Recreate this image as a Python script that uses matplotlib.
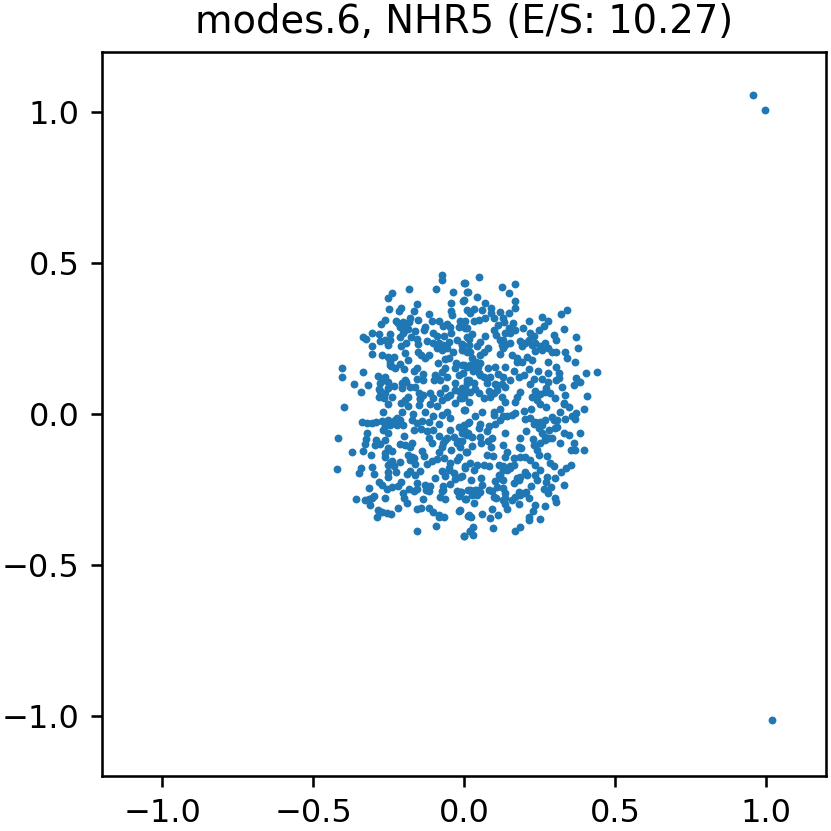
import matplotlib
matplotlib.use("Agg")
import matplotlib.pyplot as plt

title = "modes.6, NHR5 (E/S: 10.27)"
ticks = [-1.0, -0.5, 0.0, 0.5, 1.0]
outliers = [(0.957,1.056),(0.997,1.007),(1.020,-1.013)]
upper_left = [(-0.074,0.460),(-0.075,0.443),(-0.182,0.414),(-0.095,0.416),(-0.036,0.406),(-0.239,0.400),(-0.254,0.386),(0.0,0.434),(0.009,0.406),(-0.002,0.379),(-0.044,0.368),(-0.156,0.363),(-0.250,0.349),(-0.211,0.353),(-0.216,0.340),(-0.168,0.342),(-0.116,0.331),(-0.044,0.343),(-0.039,0.329),(-0.014,0.309),(-0.153,0.312),(-0.181,0.318),(-0.225,0.309),(-0.264,0.310),(-0.276,0.298),(-0.203,0.305),(-0.184,0.305),(-0.212,0.290),(-0.196,0.287),(-0.106,0.309),(-0.082,0.307),(-0.058,0.298),(-0.071,0.293),(-0.047,0.290),(-0.129,0.287),(-0.133,0.279),(-0.002,0.305),(0.009,0.285),(-0.019,0.290),(-0.163,0.274),(-0.204,0.268),(-0.212,0.254),(-0.185,0.281),(-0.305,0.267),(-0.334,0.256),(-0.325,0.248),(-0.281,0.265),(-0.245,0.265),(-0.278,0.243),(-0.262,0.246),(-0.245,0.246),(-0.251,0.229),(-0.176,0.256),(-0.155,0.249),(-0.153,0.231),(-0.192,0.235),(-0.210,0.224),(-0.196,0.202),(-0.305,0.226),(-0.304,0.199),(-0.271,0.194),(-0.254,0.190),(-0.232,0.188),(-0.247,0.174),(-0.242,0.159),(-0.185,0.179),(-0.212,0.165),(-0.199,0.150),(-0.229,0.152),(-0.154,0.205),(-0.144,0.196),(-0.118,0.196),(-0.129,0.185),(-0.122,0.243),(-0.102,0.268),(-0.089,0.260),(-0.102,0.235),(-0.085,0.235),(-0.069,0.229),(-0.074,0.213),(-0.058,0.218),(-0.066,0.260),(-0.044,0.268),(-0.024,0.246),(-0.008,0.229),(0.009,0.254),(-0.036,0.205),(-0.008,0.213),(0.009,0.205),(-0.063,0.183),(-0.052,0.185),(-0.087,0.168),(-0.027,0.168),(-0.030,0.152),(-0.002,0.163),(-0.063,0.152),(-0.074,0.138),(-0.096,0.130),(-0.100,0.113),(-0.080,0.113),(-0.058,0.124),(-0.019,0.130),(0.009,0.113),(-0.155,0.152),(-0.168,0.141),(-0.135,0.132),(-0.135,0.113),(-0.155,0.116),(-0.192,0.107),(-0.207,0.102),(-0.163,0.091),(-0.405,0.154),(-0.405,0.122),(-0.335,0.138),(-0.366,0.100),(-0.319,0.097),(-0.342,0.073),(-0.287,0.126),(-0.262,0.122),(-0.278,0.102),(-0.251,0.107),(-0.234,0.094),(-0.284,0.083),(-0.251,0.085),(-0.273,0.069),(-0.284,0.058),(-0.267,0.052),(-0.240,0.058),(-0.207,0.085),(-0.185,0.058),(-0.196,0.047),(-0.151,0.069),(-0.135,0.063),(-0.102,0.052),(-0.063,0.085),(-0.047,0.063),(-0.030,0.102),(-0.014,0.074),(0.0,0.058),(-0.074,0.047),(-0.148,0.049)]
upper_right = [(0.049,0.453),(0.002,0.434),(0.011,0.406),(0.042,0.389),(0.125,0.420),(0.167,0.432),(0.147,0.400),(0.169,0.375),(0.169,0.350),(0.149,0.336),(0.068,0.368),(-0.004,0.375),(0.060,0.345),(0.089,0.353),(0.117,0.338),(0.089,0.334),(0.097,0.318),(0.070,0.318),(0.048,0.310),(0.031,0.307),(0.009,0.345),(0.031,0.349),(0.018,0.334),(0.004,0.307),(0.004,0.285),(0.128,0.318),(0.133,0.305),(0.160,0.301),(0.112,0.296),(0.097,0.279),(0.106,0.262),(0.147,0.285),(0.136,0.268),(0.169,0.279),(0.193,0.285),(0.215,0.309),(0.257,0.323),(0.276,0.307),(0.265,0.293),(0.249,0.277),(0.320,0.331),(0.340,0.344),(0.332,0.283),(0.371,0.255),(0.377,0.220),(0.296,0.262),(0.305,0.245),(0.219,0.268),(0.232,0.257),(0.213,0.246),(0.186,0.243),(0.191,0.224),(0.153,0.235),(0.119,0.246),(0.125,0.229),(0.130,0.218),(0.119,0.199),(0.070,0.260),(0.026,0.265),(0.015,0.249),(0.053,0.240),(0.015,0.229),(-0.007,0.231),(0.078,0.220),(0.042,0.224),(-0.004,0.213),(0.020,0.207),(0.066,0.205),(0.053,0.194),(0.026,0.185),(0.040,0.174),(0.053,0.168),(0.026,0.163),(0.044,0.157),(0.009,0.157),(-0.007,0.163),(0.029,0.143),(-0.004,0.135),(0.103,0.157),(0.079,0.152),(0.136,0.157),(0.158,0.196),(0.175,0.185),(0.191,0.174),(0.208,0.190),(0.224,0.179),(0.235,0.209),(0.252,0.224),(0.268,0.235),(0.276,0.218),(0.291,0.205),(0.305,0.207),(0.235,0.235),(0.278,0.174),(0.335,0.207),(0.340,0.185),(0.368,0.174),(0.304,0.157),(0.245,0.141),(0.278,0.135),(0.315,0.137),(0.404,0.136),(0.441,0.139),(0.371,0.119),(0.382,0.107),(0.364,0.096),(0.313,0.119),(0.305,0.113),(0.324,0.091),(0.335,0.063),(0.406,0.059),(0.331,0.035),(0.232,0.116),(0.257,0.116),(0.219,0.099),(0.279,0.105),(0.272,0.087),(0.285,0.069),(0.235,0.076),(0.252,0.065),(0.224,0.058),(0.241,0.047),(0.302,0.052),(0.186,0.074),(0.175,0.058),(0.169,0.041),(0.213,0.150),(0.197,0.130),(0.180,0.121),(0.164,0.143),(0.153,0.113),(0.130,0.121),(0.111,0.132),(0.084,0.124),(0.064,0.121),(0.048,0.135),(0.075,0.102),(0.103,0.099),(0.125,0.099),(0.136,0.091),(0.108,0.080),(0.081,0.076),(0.048,0.069),(0.015,0.113),(0.031,0.102),(0.004,0.085),(0.037,0.083),(0.004,0.069),(0.064,0.052),(0.086,0.058),(0.125,0.058),(0.136,0.041),(0.015,0.041)]
lower_left = [(-0.397,0.022),(-0.419,-0.078),(-0.373,-0.125),(-0.422,-0.182),(-0.270,0.005),(-0.254,0.034),(-0.339,-0.026),(-0.323,-0.031),(-0.306,-0.031),(-0.293,-0.028),(-0.273,-0.023),(-0.251,-0.019),(-0.229,-0.019),(-0.207,0.008),(-0.212,-0.019),(-0.223,-0.036),(-0.245,-0.036),(-0.270,-0.053),(-0.262,-0.039),(-0.203,-0.036),(-0.170,0.000),(-0.174,-0.019),(-0.155,-0.031),(-0.168,-0.053),(-0.144,-0.050),(-0.129,0.008),(-0.151,0.030),(-0.185,0.027),(-0.210,0.036),(-0.102,-0.008),(-0.074,-0.003),(-0.058,0.005),(-0.091,0.025),(-0.113,0.034),(-0.118,-0.025),(-0.140,-0.022),(-0.082,-0.033),(-0.102,-0.053),(-0.124,-0.055),(-0.085,-0.073),(-0.047,-0.014),(0.0,0.014),(-0.030,0.038),(-0.019,-0.044),(-0.001,-0.036),(0.011,-0.031),(-0.008,-0.064),(-0.047,-0.053),(-0.033,-0.075),(-0.063,-0.086),(-0.019,-0.091),(-0.014,-0.108),(0.006,-0.125),(-0.118,-0.080),(-0.107,-0.095),(-0.082,-0.125),(-0.044,-0.120),(-0.074,-0.108),(-0.323,-0.064),(-0.325,-0.084),(-0.330,-0.099),(-0.334,-0.121),(-0.308,-0.137),(-0.292,-0.086),(-0.297,-0.102),(-0.278,-0.099),(-0.264,-0.086),(-0.251,-0.064),(-0.199,-0.073),(-0.251,-0.114),(-0.262,-0.130),(-0.240,-0.121),(-0.262,-0.144),(-0.212,-0.099),(-0.196,-0.102),(-0.174,-0.097),(-0.179,-0.110),(-0.140,-0.121),(-0.132,-0.138),(-0.185,-0.136),(-0.168,-0.147),(-0.179,-0.152),(-0.164,-0.167),(-0.212,-0.158),(-0.240,-0.156),(-0.251,-0.169),(-0.234,-0.174),(-0.341,-0.180),(-0.347,-0.197),(-0.304,-0.177),(-0.298,-0.198),(-0.254,-0.191),(-0.254,-0.208),(-0.225,-0.191),(-0.181,-0.188),(-0.188,-0.200),(-0.164,-0.202),(-0.146,-0.189),(-0.124,-0.166),(-0.107,-0.155),(-0.089,-0.148),(-0.067,-0.147),(-0.047,-0.161),(-0.025,-0.152),(-0.019,-0.143),(0.003,-0.174),(-0.074,-0.188),(-0.052,-0.180),(-0.033,-0.197),(-0.063,-0.205),(-0.096,-0.211),(-0.014,-0.208),(-0.030,-0.217),(-0.047,-0.232),(-0.069,-0.239),(-0.073,-0.254),(-0.080,-0.274),(-0.063,-0.282),(-0.282,-0.227),(-0.273,-0.236),(-0.316,-0.246),(-0.256,-0.250),(-0.240,-0.243),(-0.218,-0.238),(-0.209,-0.224),(-0.157,-0.228),(-0.182,-0.249),(-0.168,-0.254),(-0.155,-0.249),(-0.129,-0.235),(-0.113,-0.239),(-0.126,-0.252),(-0.116,-0.254),(-0.204,-0.263),(-0.199,-0.280),(-0.190,-0.294),(-0.262,-0.280),(-0.357,-0.283),(-0.330,-0.285),(-0.314,-0.282),(-0.300,-0.271),(-0.312,-0.302),(-0.137,-0.282),(-0.287,-0.318),(-0.273,-0.324),(-0.289,-0.341),(-0.256,-0.327),(-0.243,-0.330),(-0.218,-0.313),(-0.157,-0.315),(-0.144,-0.311),(-0.118,-0.310),(-0.105,-0.324),(-0.085,-0.335),(-0.085,-0.343),(-0.067,-0.341),(-0.017,-0.320),(0.012,-0.337),(-0.157,-0.387),(-0.092,-0.372),(-0.001,-0.406),(0.020,-0.388),(-0.025,-0.254),(-0.011,-0.258),(-0.019,-0.272),(0.004,-0.282),(0.011,-0.252)]
lower_right = [(0.398,0.018),(0.371,0.003),(0.357,-0.008),(0.368,-0.017),(0.335,-0.016),(0.318,0.008),(0.331,0.034),(0.346,0.023),(0.272,0.023),(0.250,0.034),(0.221,0.016),(0.197,0.010),(0.219,-0.014),(0.202,-0.016),(0.169,0.003),(0.142,-0.006),(0.119,0.016),(0.097,0.005),(0.119,-0.019),(0.103,-0.033),(0.059,0.008),(0.037,-0.008),(0.001,0.014),(0.015,-0.028),(0.053,-0.033),(0.048,-0.047),(0.081,-0.039),(0.075,-0.058),(0.011,-0.064),(-0.004,-0.053),(0.026,-0.075),(0.053,-0.077),(0.055,-0.097),(0.078,-0.088),(0.092,-0.080),(0.026,-0.106),(0.089,-0.111),(0.009,-0.125),(0.075,-0.136),(0.095,-0.138),(0.136,-0.064),(0.206,-0.058),(0.186,-0.080),(0.130,-0.103),(0.142,-0.125),(0.136,-0.143),(0.164,-0.147),(0.180,-0.108),(0.189,-0.114),(0.228,-0.084),(0.230,-0.103),(0.241,-0.119),(0.246,-0.136),(0.274,-0.138),(0.252,-0.097),(0.268,-0.086),(0.291,-0.080),(0.257,-0.064),(0.280,-0.053),(0.302,-0.047),(0.232,-0.033),(0.252,-0.025),(0.268,-0.019),(0.291,-0.011),(0.307,-0.019),(0.307,-0.042),(0.329,-0.062),(0.346,-0.069),(0.384,-0.062),(0.362,-0.095),(0.318,-0.095),(0.355,-0.118),(0.368,-0.118),(0.398,-0.118),(0.285,-0.163),(0.298,-0.174),(0.355,-0.168),(0.338,-0.178),(0.320,-0.191),(0.299,-0.213),(0.329,-0.236),(0.274,-0.210),(0.272,-0.224),(0.287,-0.241),(0.263,-0.248),(0.278,-0.263),(0.302,-0.280),(0.304,-0.291),(0.267,-0.304),(0.233,-0.300),(0.228,-0.323),(0.252,-0.347),(0.213,-0.343),(0.213,-0.352),(0.186,-0.374),(0.167,-0.388),(0.094,-0.379),(0.029,-0.376),(0.020,-0.388),(0.028,-0.402),(-0.001,-0.406),(0.015,-0.335),(0.023,-0.341),(0.059,-0.332),(0.086,-0.344),(0.092,-0.315),(0.111,-0.335),(0.033,-0.296),(0.005,-0.282),(0.020,-0.252),(0.037,-0.252),(0.053,-0.258),(0.042,-0.269),(0.026,-0.269),(0.055,-0.211),(0.059,-0.235),(0.023,-0.220),(0.081,-0.252),(0.092,-0.254),(0.097,-0.274),(0.106,-0.277),(0.130,-0.285),(0.136,-0.299),(0.142,-0.316),(0.158,-0.285),(0.180,-0.299),(0.169,-0.274),(0.180,-0.258),(0.197,-0.263),(0.213,-0.280),(0.206,-0.258),(0.222,-0.239),(0.103,-0.221),(0.119,-0.202),(0.130,-0.219),(0.108,-0.241),(0.130,-0.246),(0.136,-0.263),(0.164,-0.230),(0.175,-0.213),(0.186,-0.208),(0.202,-0.191),(0.208,-0.202),(0.235,-0.202),(0.241,-0.219),(0.250,-0.186),(0.235,-0.169),(0.219,-0.152),(0.202,-0.141),(0.186,-0.141),(0.164,-0.169),(0.153,-0.174),(0.130,-0.174),(0.114,-0.169),(0.142,-0.186),(0.114,-0.202),(0.081,-0.174),(0.064,-0.169),(0.042,-0.169),(0.031,-0.186),(0.018,-0.161),(0.004,-0.180),(-0.007,-0.205),(-0.010,-0.258),(-0.013,-0.318)]
dense_spots = [(-0.218,0.301),(-0.199,0.274),(-0.080,0.224),(-0.063,0.227),(-0.091,0.218),(-0.052,0.238),(-0.245,0.163),(-0.267,0.113),(-0.278,0.076),(-0.262,0.069),(-0.196,0.113),(-0.179,0.091),(-0.091,0.118),(-0.008,0.085),(-0.030,0.080),(-0.058,0.058),(-0.014,0.052),(-0.146,0.052),(-0.113,0.069),(-0.080,0.069),(0.020,0.163),(0.037,0.152),(0.009,0.102),(0.130,0.246),(0.136,0.229),(0.202,0.235),(0.224,0.229),(0.257,0.213),(0.175,0.174),(0.108,0.096),(0.053,0.130),(0.020,0.074),(-0.007,0.052),(0.268,0.074),(0.235,0.058),(0.097,0.069),(0.153,0.268),(-0.234,-0.031),(-0.218,-0.031),(-0.223,-0.014),(-0.025,-0.097),(-0.008,-0.091),(-0.069,-0.097),(-0.174,-0.141),(-0.245,-0.163),(-0.052,-0.186),(-0.118,-0.243),(-0.069,-0.252),(-0.019,-0.263),(-0.306,-0.280),(-0.278,-0.324),(-0.002,-0.053),(0.009,-0.069),(-0.058,-0.080),(-0.007,-0.053),(-0.002,-0.064),(0.268,-0.075),(0.280,-0.080),(0.246,-0.047),(0.130,-0.186),(0.153,-0.180),(0.119,-0.213),(0.180,-0.219),(0.031,-0.258),(0.042,-0.252),(0.186,-0.269),(0.136,-0.280),(0.097,-0.003),(0.130,-0.008),(0.158,-0.003),(0.257,-0.036),(0.296,-0.019),(0.235,-0.025)]

W = H = 831
DPI = 231
fig = plt.figure(figsize=(W / DPI, H / DPI), dpi=DPI)
ax = fig.add_axes([102 / W, 1 - 776 / H, 724.5 / W, 724 / H])
points = upper_left + upper_right + lower_left + lower_right + dense_spots + outliers
ax.scatter([p[0] for p in points], [p[1] for p in points], s=6, color="#1f77b4", linewidths=0)
ax.set_xlim(-1.2, 1.2)
ax.set_ylim(-1.2, 1.2)
ax.set_xticks(ticks)
ax.set_yticks(ticks)
ax.set_title(title)
fig.savefig("out.png", dpi=DPI)
